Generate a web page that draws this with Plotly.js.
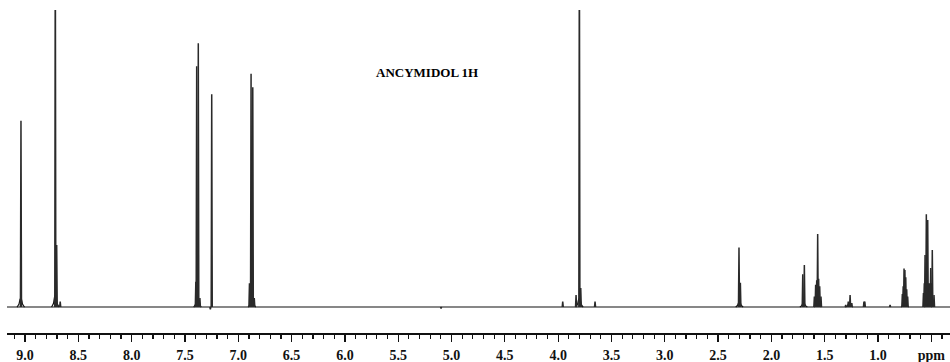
<!DOCTYPE html>
<html>
<head>
<meta charset="utf-8">
<script src="https://cdn.plot.ly/plotly-3.0.1.min.js"></script>
<style>html,body{margin:0;padding:0;background:#fff;}#chart{width:950px;height:362px;}</style>
</head>
<body>
<div id="chart"></div>
<script>
// Chemical shifts (ppm) of resolved lines and their relative intensities
const peakPpm = [9.038, 8.716, 8.703, 8.670,
  7.398, 7.390, 7.375, 7.360, 7.262, 7.249,
  6.895, 6.880, 6.864, 6.850, 5.098,
  3.957, 3.832, 3.801, 3.788, 3.654,
  2.304, 2.291, 1.706, 1.691,
  1.597, 1.585, 1.575, 1.566, 1.557, 1.547, 1.535,
  1.303, 1.279, 1.262, 1.246, 1.132, 1.124, 0.887,
  0.772, 0.764, 0.756, 0.748, 0.740, 0.731, 0.722,
  0.574, 0.566, 0.559, 0.547, 0.534, 0.528, 0.522, 0.515, 0.506, 0.498, 0.491, 0.475];
const peakInt = [62.7, 130, 20.9, 1.8,
  8.5, 81.1, 88.8, 3.0, -0.8, 71.6,
  8.0, 78.5, 74.0, 3.0, -0.5,
  1.8, 4.0, 130, 6.4, 1.8,
  20.0, 8.2, 11.0, 14.1,
  3.5, 7.5, 9.0, 24.6, 9.5, 7.0, 3.5,
  0.7, 1.8, 4.0, 1.3, 1.8, 1.8, 0.7,
  4.4, 7.0, 13.0, 12.5, 10.0, 6.0, 3.5,
  4.7, 8.0, 17.5, 31.2, 29.3, 8.0, 6.4, 8.0, 13.1, 8.0, 19.2, 4.0];
// Broad bases under the multiplets
const humpPpm = [9.040, 8.716, 7.383, 6.872, 3.801, 2.300, 1.698, 1.566, 1.270, 0.748, 0.530];
const humpInt = [3.0, 4.0, 3.0, 3.0, 3.0, 1.8, 1.5, 2.5, 1.2, 2.0, 2.5];
// Axis ticks
const tickVals = [9.0, 8.5, 8.0, 7.5, 7.0, 6.5, 6.0, 5.5, 5.0, 4.5, 4.0, 3.5, 3.0, 2.5, 2.0, 1.5, 1.0, 0.5];
const tickText = ["9.0", "8.5", "8.0", "7.5", "7.0", "6.5", "6.0", "5.5", "5.0", "4.5", "4.0", "3.5", "3.0", "2.5", "2.0", "1.5", "1.0", "ppm"];
const titleText = "ANCYMIDOL 1H";

const xRange = [9.169, 0.325];
const stickHalf = 0.005, humpHalf = 0.035;

const sx = [], sy = [];
peakPpm.forEach((p, i) => {
  sx.push(p + stickHalf, p, p - stickHalf, null);
  sy.push(0, peakInt[i], 0, null);
});
const hx = [], hy = [];
humpPpm.forEach((p, i) => {
  hx.push(p + humpHalf, p + humpHalf * 0.5, p + humpHalf * 0.2, p, p - humpHalf * 0.2, p - humpHalf * 0.5, p - humpHalf, null);
  hy.push(0, humpInt[i] * 0.3, humpInt[i] * 0.85, humpInt[i], humpInt[i] * 0.85, humpInt[i] * 0.3, 0, null);
});

const traces = [
  {x: [xRange[0], xRange[1]], y: [0, 0], mode: 'lines', line: {color: '#111', width: 1.2}, hoverinfo: 'skip'},
  {x: hx, y: hy, mode: 'lines', line: {color: '#111', width: 1.2, shape: 'spline', smoothing: 0.6}, connectgaps: false, hoverinfo: 'skip'},
  {x: sx, y: sy, mode: 'lines', line: {color: '#2a2a2a', width: 1.5}, connectgaps: false, hoverinfo: 'skip'}
];

const layout = {
  width: 950, height: 362,
  margin: {l: 7, r: 0, t: 10, b: 29},
  paper_bgcolor: '#fff', plot_bgcolor: '#fff',
  showlegend: false,
  xaxis: {
    range: xRange, showgrid: false, zeroline: false,
    showline: true, linecolor: '#111', linewidth: 1.6,
    ticks: 'outside', ticklen: 7, tickwidth: 1.3, tickcolor: '#111',
    ticklabelstandoff: 2,
    tickmode: 'array', tickvals: tickVals, ticktext: tickText,
    tickfont: {family: 'Liberation Serif', size: 14, color: '#111', weight: 'bold'},
    minor: {tickmode: 'linear', tick0: 0, dtick: 0.1, ticks: 'outside', ticklen: 4, tickwidth: 1.2, tickcolor: '#111', showgrid: false}
  },
  yaxis: {range: [-8.75, 100], visible: false, showgrid: false, zeroline: false},
  annotations: [{
    x: 5.23, y: 78.8, xref: 'x', yref: 'y', text: titleText, showarrow: false,
    font: {family: 'Liberation Serif', size: 13, color: '#000', weight: 'bold'}
  }]
};

Plotly.newPlot('chart', traces, layout, {displayModeBar: false, staticPlot: true});
</script>
</body>
</html>
